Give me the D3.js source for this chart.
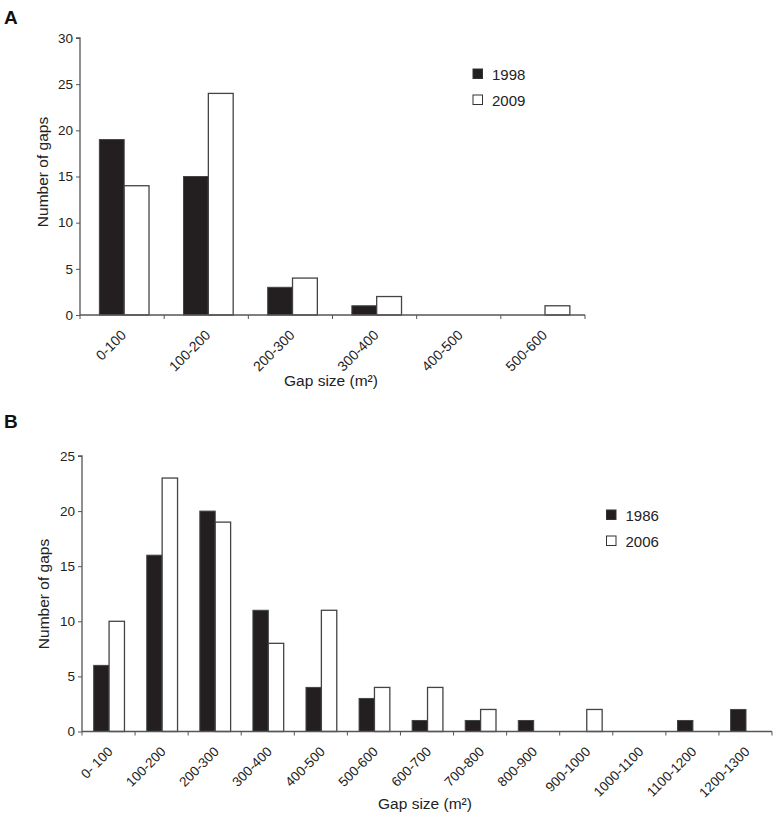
<!DOCTYPE html>
<html>
<head>
<meta charset="utf-8">
<script src="https://cdn.jsdelivr.net/npm/d3@7"></script>
<style>
body { margin: 0; background: #fff; }
svg { display: block; font-family: "Liberation Sans", Arial, sans-serif; }
</style>
</head>
<body>
<svg id="chart" width="776" height="815"></svg>
<script>
// Panel A data
const catsA = ["0-100", "100-200", "200-300", "300-400", "400-500", "500-600"];
const seriesA1Name = "1998";
const seriesA2Name = "2009";
const valsA1 = [19, 15, 3, 1, 0, 0];
const valsA2 = [14, 24, 4, 2, 0, 1];
const yTicksA = [0, 5, 10, 15, 20, 25, 30];

// Panel B data
const catsB = ["0- 100", "100-200", "200-300", "300-400", "400-500", "500-600", "600-700",
  "700-800", "800-900", "900-1000", "1000-1100", "1100-1200", "1200-1300"];
const seriesB1Name = "1986";
const seriesB2Name = "2006";
const valsB1 = [6, 16, 20, 11, 4, 3, 1, 1, 1, 0, 0, 1, 2];
const valsB2 = [10, 23, 19, 8, 11, 4, 4, 2, 0, 2, 0, 0, 0];
const yTicksB = [0, 5, 10, 15, 20, 25];

const svg = d3.select("#chart");
const dark = "#231f20";
const axisCol = "#555";
const textCol = "#222";
const FONT = "'Liberation Sans', Arial, sans-serif";

function panel(cfg) {
  const g = svg.append("g");
  const x = d3.scaleBand().domain(cfg.cats).range([cfg.x0, cfg.x1]).paddingInner(0).paddingOuter(0);
  const y = d3.scaleLinear().domain([0, cfg.yMax]).range([cfg.yBottom, cfg.yTop]);
  const bw = x.bandwidth();
  const barW = bw * cfg.barFrac;
  const off = bw * cfg.offFrac;

  // bars
  const data = cfg.cats.map((c, i) => ({c, a: cfg.v1[i], b: cfg.v2[i]}));
  data.forEach(d => {
    if (d.a > 0) g.append("rect")
      .attr("x", x(d.c) + off).attr("y", y(d.a))
      .attr("width", barW).attr("height", y(0) - y(d.a))
      .attr("fill", dark).attr("stroke", "#444").attr("stroke-width", 1);
    if (d.b > 0) g.append("rect")
      .attr("x", x(d.c) + off + barW).attr("y", y(d.b))
      .attr("width", barW).attr("height", y(0) - y(d.b))
      .attr("fill", "#fff").attr("stroke", "#444").attr("stroke-width", 1.3);
  });

  // y axis
  const ya = g.append("g").attr("transform", `translate(${cfg.x0},0)`)
    .call(d3.axisLeft(y).tickValues(cfg.yTicks).tickSize(4).tickPadding(3));
  ya.attr("font-size", null).attr("font-family", null);
  ya.select(".domain").attr("stroke", axisCol).attr("stroke-width", 1.3)
    .attr("d", `M-4,${y(cfg.yMax)}H0V${y(0)}`);
  ya.selectAll(".tick line").attr("stroke", axisCol);
  ya.selectAll(".tick text").attr("fill", textCol)
    .style("font-size", cfg.yFont + "px").style("font-family", FONT);

  // x axis line with ticks at band boundaries
  const bounds = cfg.cats.map(c => x(c)).concat([cfg.x1]);
  g.append("line").attr("x1", cfg.x0).attr("x2", cfg.x1)
    .attr("y1", y(0)).attr("y2", y(0)).attr("stroke", axisCol).attr("stroke-width", 1.3);
  g.selectAll(".xt").data(bounds).enter().append("line")
    .attr("x1", d => d).attr("x2", d => d)
    .attr("y1", y(0)).attr("y2", y(0) + 4).attr("stroke", axisCol);

  // x labels
  g.selectAll(".xl").data(cfg.cats).enter().append("text")
    .attr("transform", d => `translate(${x(d) + bw / 2 + cfg.lblDx},${y(0) + cfg.lblDy}) rotate(-45)`)
    .attr("text-anchor", "end")
    .attr("fill", textCol)
    .style("font-size", cfg.xFont + "px").style("font-family", FONT)
    .text(d => d);

  // axis titles
  g.append("text").attr("x", cfg.xTitleX).attr("y", cfg.xTitleY)
    .attr("text-anchor", "middle").attr("fill", textCol)
    .style("font-size", "15.5px").style("font-family", FONT)
    .text("Gap size (m²)");
  g.append("text").attr("transform", `translate(${cfg.yTitleX},${cfg.yTitleY}) rotate(-90)`)
    .attr("text-anchor", "middle").attr("fill", textCol)
    .style("font-size", "15.5px").style("font-family", FONT)
    .text("Number of gaps");

  // panel letter
  g.append("text").attr("x", 4).attr("y", cfg.letterY)
    .attr("fill", "#111").style("font-size", "19px").style("font-weight", "bold").style("font-family", FONT)
    .text(cfg.letter);

  // legend
  const leg = [{n: cfg.n1, f: dark}, {n: cfg.n2, f: "#fff"}];
  leg.forEach((l, i) => {
    const ly = cfg.legY + i * cfg.legStep;
    g.append("rect").attr("x", cfg.legX).attr("y", ly).attr("width", 9.5).attr("height", 9.5)
      .attr("fill", l.f).attr("stroke", "#333").attr("stroke-width", 1);
    g.append("text").attr("x", cfg.legX + 19).attr("y", ly + 10.5)
      .attr("fill", textCol).style("font-size", "15px").style("font-family", FONT).text(l.n);
  });
}

panel({
  cats: catsA, v1: valsA1, v2: valsA2, n1: seriesA1Name, n2: seriesA2Name,
  yTicks: yTicksA, yMax: 30,
  x0: 80, x1: 585, yTop: 38, yBottom: 315,
  barFrac: 0.295, offFrac: 0.23,
  yFont: 13.5, xFont: 14, lblDx: 5, lblDy: 21,
  xTitleX: 331, xTitleY: 386, yTitleX: 48, yTitleY: 172,
  letter: "A", letterY: 24,
  legX: 473, legY: 69, legStep: 26
});

panel({
  cats: catsB, v1: valsB1, v2: valsB2, n1: seriesB1Name, n2: seriesB2Name,
  yTicks: yTicksB, yMax: 25,
  x0: 82, x1: 772, yTop: 456, yBottom: 731.5,
  barFrac: 0.29, offFrac: 0.22,
  yFont: 13.5, xFont: 13.5, lblDx: 5, lblDy: 21,
  xTitleX: 425, xTitleY: 809, yTitleX: 49, yTitleY: 594,
  letter: "B", letterY: 428,
  legX: 606.5, legY: 510, legStep: 26
});
</script>
</body>
</html>
